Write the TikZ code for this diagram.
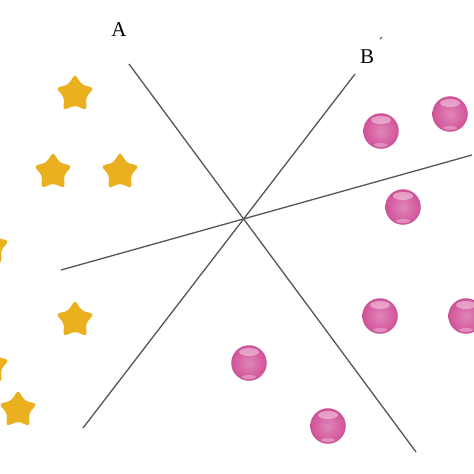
\documentclass[tikz,border=0pt]{standalone}
\usepackage{fontspec}
\setmainfont{Liberation Serif}
\usetikzlibrary{shapes.geometric}
\definecolor{starcol}{HTML}{EBB020}
\definecolor{ballcol}{HTML}{D2529A}
\definecolor{linecol}{HTML}{555555}
\tikzset{
  staricon/.style={star, star points=5, star point ratio=1.75, minimum size=40pt, inner sep=0pt,
     fill=starcol, rounded corners=3.5pt},
  ballicon/.style={circle, minimum size=35pt, inner sep=0pt,
     inner color=ballcol!70!white, outer color=ballcol, draw=ballcol!85!black, line width=0.3pt},
  sepline/.style={draw=linecol, line width=1.3pt},
  lbl/.style={font=\fontsize{21}{24}\selectfont, inner sep=0pt}
}
\begin{document}
\begin{tikzpicture}[x=1pt,y=-1pt]
\useasboundingbox (0,0) rectangle (474,474);
% separating lines
\coordinate (a1) at (129,64);
\coordinate (a2) at (416,452);
\coordinate (b1) at (355,74);
\coordinate (b2) at (83,428);
\coordinate (c1) at (61,270);
\coordinate (c2) at (472,155);
\draw[sepline] (a1) -- (a2);
\draw[sepline] (b1) -- (b2);
\draw[sepline] (c1) -- (c2);
% labels
\node[lbl] (labA) at (119,30) {A};
\node[lbl] (labB) at (367,57) {B};
\node[font=\fontsize{14}{14}\selectfont, inner sep=0pt] (labBp) at (381,43) {´};
% stars
\node[staricon] (s1) at (75,94) {};
\node[staricon] (s2) at (53,172) {};
\node[staricon] (s3) at (120,172) {};
\node[staricon] (s4) at (-10,247) {};
\node[staricon] (s5) at (75,320) {};
\node[staricon] (s6) at (-10,366) {};
\node[staricon] (s7) at (18,410) {};
% balls
\foreach \n/\x/\y in {p1/381/131, p2/450/114, p3/403/207, p4/380/316, p5/466/316, p6/249/363, p7/328/426}{
  \node[ballicon] (\n) at (\x,\y) {};
  \fill[white, opacity=0.4] ([yshift=11pt]\n.center) ellipse (10pt and 4pt);
  \fill[white, opacity=0.3] ([yshift=-14pt]\n.center) ellipse (7pt and 2pt);
}
\end{tikzpicture}
\end{document}
